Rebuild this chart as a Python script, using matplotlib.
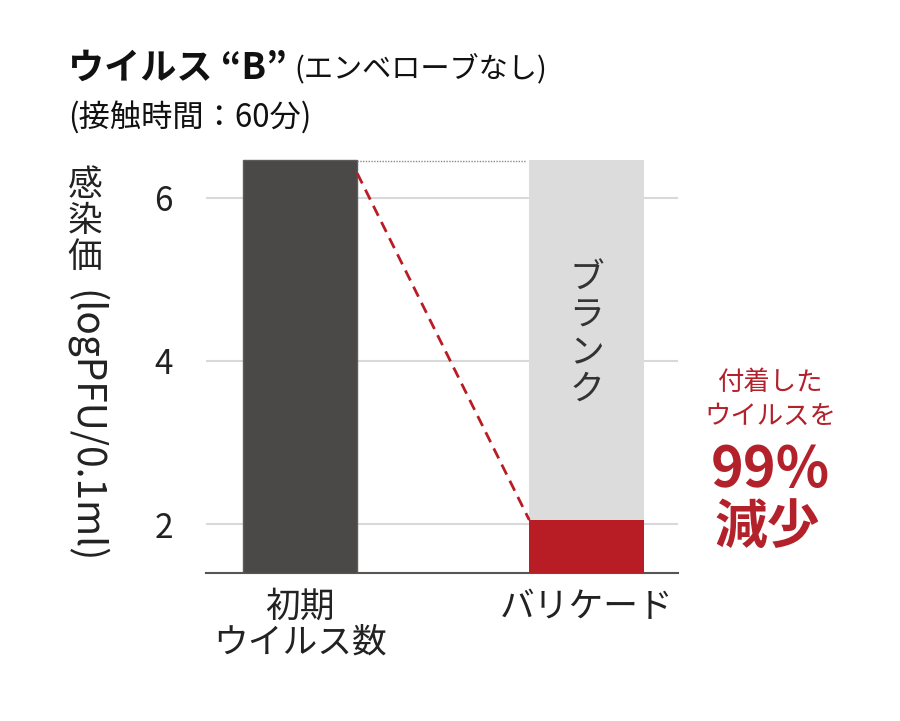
import matplotlib
matplotlib.use("Agg")
import matplotlib.pyplot as plt

# ---------------------------
# Data
# ---------------------------
categories = ["初期\nウイルス数", "バリケード"]
initial_titer = 6.47       # 初期ウイルス数
blank_titer = 6.47         # ブランク (grey bar behind barricade)
barricade_titer = 2.05     # バリケード
line_start = 6.30          # red dashed line start on first bar
yticks = [2, 4, 6]
ylim = (1.40, 6.60)

plt.rcParams["font.family"] = ["Noto Sans CJK JP", "DejaVu Sans"]

DARK = "#4a4948"
GREY = "#dcdcdc"
RED = "#b81c25"
RED_TXT = "#b3212b"

fig = plt.figure(figsize=(9, 7.21), dpi=100)
ax = fig.add_axes([206 / 900, 148 / 721, 472 / 900, 424 / 721])

x = [0, 1]
w = 0.40

ax.bar(x[0], initial_titer - ylim[0], bottom=ylim[0], width=w, color=DARK,
       edgecolor="#5c5c5c", linewidth=1, zorder=3)
ax.bar(x[1], blank_titer - ylim[0], bottom=ylim[0], width=w, color=GREY,
       linewidth=0, zorder=2)
ax.bar(x[1], barricade_titer - ylim[0], bottom=ylim[0], width=w, color=RED,
       linewidth=0, zorder=3)

# connector lines
ax.plot([x[0] + w / 2, x[1] - w / 2 - 0.01], [initial_titer - 0.02] * 2,
        color="#888888", linestyle=(0, (1, 1)), linewidth=1, zorder=4)
ax.plot([x[0] + w / 2, x[1] - w / 2], [line_start, barricade_titer],
        color=RED, linestyle=(0, (4, 2.5)), linewidth=2, zorder=4)

ax.text(x[1], 4.32, "ブ\nラ\nン\nク", ha="center", va="center", fontsize=25,
        color="#333333", linespacing=1.07, zorder=5)

ax.set_xlim(-0.328, 1.319)
ax.set_ylim(*ylim)
ax.set_yticks(yticks)
ax.set_yticklabels([str(t) for t in yticks])
ax.set_xticks(x)
ax.set_xticklabels(categories, linespacing=1.02)
ax.tick_params(axis="y", length=0, pad=24, labelsize=24, labelcolor="#222222")
ax.tick_params(axis="x", length=0, pad=12, labelsize=25, labelcolor="#222222")
ax.grid(axis="y", color="#d9d9d9", linewidth=1.5, zorder=0)
ax.set_axisbelow(True)
for side in ["top", "right", "left"]:
    ax.spines[side].set_visible(False)
ax.spines["bottom"].set_color("#555555")
ax.spines["bottom"].set_linewidth(1.5)

# y label: vertical kanji + rotated latin part
for i, ch in enumerate("感染価"):
    fig.text(85 / 900, 1 - (185 + 36 * i) / 721, ch, ha="center", va="center",
             fontsize=25, color="#222222")
fig.text(85 / 900, 1 - 427 / 721, "(logPFU/0.1ml)", ha="center", va="center",
         rotation=270, fontsize=28, color="#222222")

# title
fig.text(68 / 900, 1 - 68 / 721, "ウイルス “B”", ha="left", va="center",
         fontsize=26, fontweight="bold", color="#111111")
fig.text(294 / 900, 1 - 69 / 721, "(エンベローブなし)", ha="left", va="center",
         fontsize=21, color="#111111")
fig.text(68 / 900, 1 - 117 / 721, "(接触時間：60分)", ha="left", va="center",
         fontsize=22.5, color="#111111")

# red annotation
fig.text(770 / 900, 1 - 383 / 721, "付着した", ha="center", va="center",
         fontsize=19, color=RED_TXT)
fig.text(770 / 900, 1 - 416 / 721, "ウイルスを", ha="center", va="center",
         fontsize=19, color=RED_TXT)
fig.text(770 / 900, 1 - 470 / 721, "99%", ha="center", va="center",
         fontsize=40, fontweight="bold", color=RED_TXT)
fig.text(767 / 900, 1 - 527 / 721, "減少", ha="center", va="center",
         fontsize=38, fontweight="bold", color=RED_TXT)

fig.savefig("out.png", dpi=100, facecolor="white")
